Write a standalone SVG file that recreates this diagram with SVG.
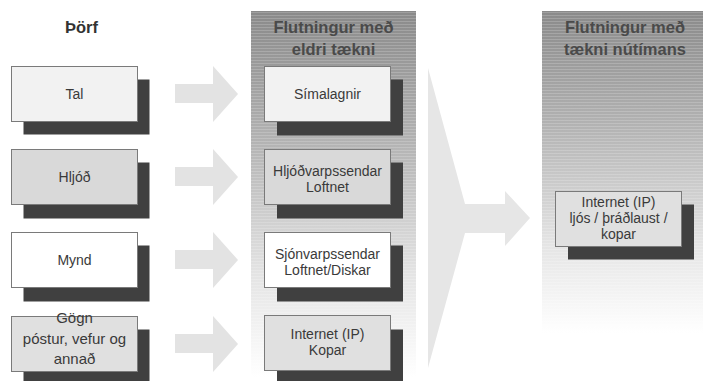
<svg xmlns="http://www.w3.org/2000/svg" width="703" height="381" viewBox="0 0 703 381">
<defs>
<linearGradient id="pg" x1="0" y1="0" x2="0" y2="1">
<stop offset="0" stop-color="#8a8a8a"/>
<stop offset="0.35" stop-color="#b2b2b2"/>
<stop offset="0.72" stop-color="#e4e4e4"/>
<stop offset="1" stop-color="#ffffff"/>
</linearGradient>
<pattern id="stripes" width="4" height="3" patternUnits="userSpaceOnUse">
<rect x="0" y="0" width="4" height="1" fill="#ffffff" fill-opacity="0.18"/>
</pattern>
</defs>
<style>
.sh{fill:#404040}
.bx{stroke:#7a7a7a;stroke-width:1}
.t{font-size:14px;fill:#3a3a3a;text-anchor:middle}
.h{font-size:16.5px;font-weight:bold;fill:#4a4a4a;text-anchor:middle}
.ar{fill:#e3e3e3}
</style>
<rect width="703" height="381" fill="#ffffff"/>

<g font-family="Liberation Sans, Arial, sans-serif">
<g id="panel-eldri">
<rect x="251" y="11" width="165" height="366" fill="url(#pg)"/>
<rect x="251" y="11" width="165" height="366" fill="url(#stripes)"/>
<text class="h" x="333.5" y="33">Flutningur með</text>
<text class="h" x="333.5" y="55">eldri tækni</text>
</g>
<g id="panel-nutima">
<rect x="542" y="11" width="161" height="322" fill="url(#pg)"/>
<rect x="542" y="11" width="161" height="322" fill="url(#stripes)"/>
<text class="h" x="625" y="33">Flutningur með</text>
<text class="h" x="625" y="55">tækni nútímans</text>
</g>

<g id="title-thorf">
<text class="h" x="81.5" y="33" fill="#333" style="fill:#333">Þörf</text>
</g>

<g id="connectors">
<polygon class="ar" points="175,84 213,84 213,66 238,94 213,122 213,103 175,103"/>
<polygon class="ar" points="175,167 213,167 213,149 238,177 213,205 213,186 175,186"/>
<polygon class="ar" points="175,250 213,250 213,232 238,260 213,288 213,269 175,269"/>
<polygon class="ar" points="175,334 213,334 213,316 238,344 213,372 213,353 175,353"/>
<polygon fill="#e6e6e6" points="428,68 465,204 505,204 505,191 530,218 505,246 505,233 465,233 428,368"/>
</g>

<g id="node-tal">
<rect class="sh" x="23.5" y="79.5" width="126" height="55"/>
<rect class="bx" x="11.5" y="66.5" width="126" height="55" fill="#f2f2f2"/>
<text class="t" x="74.5" y="99">Tal</text>
</g>
<g id="node-hljod">
<rect class="sh" x="23.5" y="162.5" width="126" height="56"/>
<rect class="bx" x="11.5" y="149.5" width="126" height="55" fill="#d9d9d9"/>
<text class="t" x="74.5" y="182">Hljóð</text>
</g>
<g id="node-mynd">
<rect class="sh" x="23.5" y="245.5" width="126" height="56"/>
<rect class="bx" x="11.5" y="232.5" width="126" height="55" fill="#ffffff"/>
<text class="t" x="74.5" y="264.5">Mynd</text>
</g>
<g id="node-gogn">
<rect class="sh" x="23.5" y="329.5" width="126" height="52"/>
<rect class="bx" x="11.5" y="316.5" width="126" height="55" fill="#e0e0e0"/>
<text class="t" x="74.5" y="323" style="font-size:15px">Gögn</text>
<text class="t" x="74.5" y="344" style="font-size:15px">póstur, vefur og</text>
<text class="t" x="74.5" y="364" style="font-size:15px">annað</text>
</g>

<g id="node-simalagnir">
<rect class="sh" x="277" y="79.5" width="126" height="56"/>
<rect class="bx" x="264.5" y="66.5" width="126" height="55" fill="#f2f2f2"/>
<text class="t" x="327.5" y="99">Símalagnir</text>
</g>
<g id="node-hljodvarp">
<rect class="sh" x="277" y="162.5" width="126" height="56"/>
<rect class="bx" x="264.5" y="149.5" width="126" height="55" fill="#d9d9d9"/>
<text class="t" x="327.5" y="176">Hljóðvarpssendar</text>
<text class="t" x="327.5" y="192">Loftnet</text>
</g>
<g id="node-sjonvarp">
<rect class="sh" x="277" y="245.5" width="126" height="56"/>
<rect class="bx" x="264.5" y="232.5" width="126" height="55" fill="#ffffff"/>
<text class="t" x="327.5" y="259">Sjónvarpssendar</text>
<text class="t" x="327.5" y="275">Loftnet/Diskar</text>
</g>
<g id="node-internet-kopar">
<rect class="sh" x="277" y="329.5" width="126" height="52"/>
<rect class="bx" x="264.5" y="315.5" width="126" height="55" fill="#e0e0e0"/>
<text class="t" x="327.5" y="339">Internet (IP)</text>
<text class="t" x="327.5" y="355">Kopar</text>
</g>

<g id="node-internet-nutima">
<rect class="sh" x="568" y="204.5" width="126" height="55"/>
<rect class="bx" x="555.5" y="191.5" width="126" height="55" fill="#e0e0e0"/>
<text class="t" x="618.5" y="207">Internet (IP)</text>
<text class="t" x="618.5" y="223">ljós / þráðlaust /</text>
<text class="t" x="618.5" y="239">kopar</text>
</g>
</g>
</svg>
